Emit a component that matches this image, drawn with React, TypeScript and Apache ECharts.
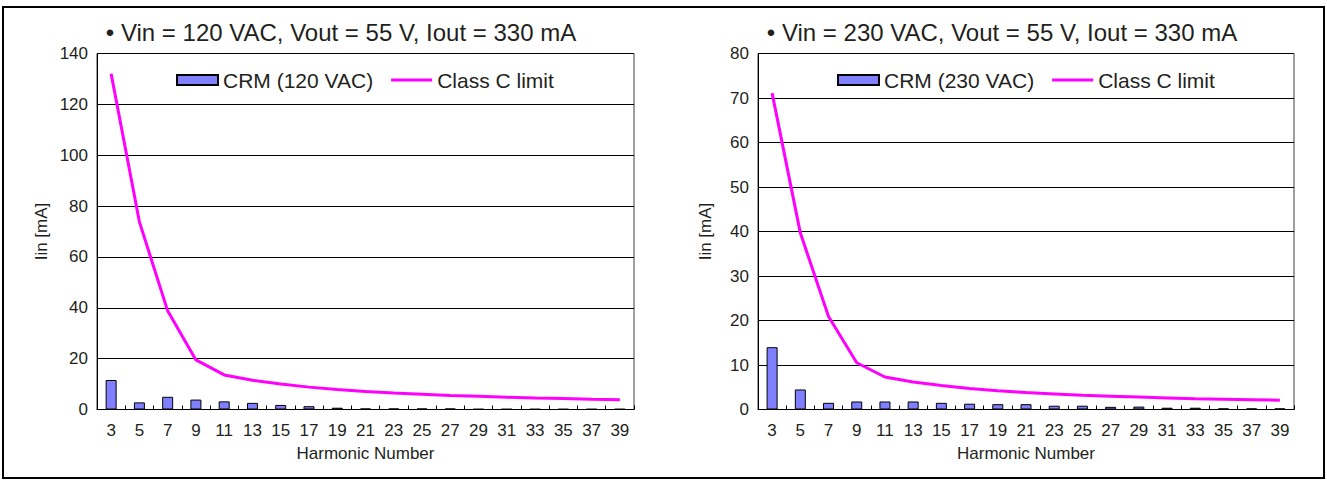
import React, { useEffect, useRef } from "react";
import * as echarts from "echarts";

const harmonics = ["3","5","7","9","11","13","15","17","19","21","23","25","27","29","31","33","35","37","39"];
const crm120 = [11.6, 2.8, 5.0, 3.9, 3.2, 2.6, 1.8, 1.3, 0.7, 0.4, 0.4, 0.4, 0.4, 0.2, 0.2, 0.2, 0.2, 0.2, 0.2];
const limit120 = [132, 73.8, 38.8, 19.5, 13.6, 11.5, 10.0, 8.8, 7.9, 7.1, 6.5, 6.0, 5.5, 5.2, 4.8, 4.5, 4.3, 4.0, 3.8];
const crm230 = [14.0, 4.5, 1.5, 1.8, 1.8, 1.8, 1.5, 1.3, 1.2, 1.2, 0.85, 0.85, 0.6, 0.65, 0.4, 0.4, 0.25, 0.25, 0.25];
const limit230 = [71.1, 39.7, 20.9, 10.5, 7.3, 6.2, 5.4, 4.7, 4.2, 3.8, 3.5, 3.2, 3.0, 2.8, 2.6, 2.4, 2.3, 2.2, 2.1];
const titles = ["• Vin = 120 VAC, Vout = 55 V, Iout = 330 mA", "• Vin = 230 VAC, Vout = 55 V, Iout = 330 mA"];
const barNames = ["CRM (120 VAC)", "CRM (230 VAC)"];
const lineName = "Class C limit";
const yMax = [140, 80];
const yInterval = [20, 10];

const FONT = "Liberation Sans, Arial, sans-serif";
const TXT = "#231f20";

export default function App() {
  const ref = useRef<HTMLDivElement>(null);
  useEffect(() => {
    if (!ref.current) return;
    const chart = echarts.init(ref.current, null, { renderer: "svg" });
    const grids = [
      { left: 97, top: 53.5, width: 537, height: 356 },
      { left: 758, top: 53.5, width: 536, height: 356 },
    ];
    const nameGaps = [47, 44];
    const xAxes: any[] = [];
    const yAxes: any[] = [];
    grids.forEach((g, i) => {
      xAxes.push({
        type: "category",
        gridIndex: i,
        data: harmonics,
        boundaryGap: true,
        name: "Harmonic Number",
        nameLocation: "middle",
        nameGap: 35,
        nameTextStyle: { fontFamily: FONT, fontSize: 17, color: TXT },
        axisLine: { show: true, lineStyle: { color: "#000", width: 1 } },
        axisTick: { show: true, inside: true, length: 4, alignWithLabel: false, lineStyle: { color: "#000" } },
        axisLabel: { fontFamily: FONT, fontSize: 17, color: TXT, margin: 12, interval: 0 },
      });
      yAxes.push({
        type: "value",
        gridIndex: i,
        min: 0,
        max: yMax[i],
        interval: yInterval[i],
        name: "Iin [mA]",
        nameLocation: "middle",
        nameGap: nameGaps[i],
        nameRotate: 90,
        nameTextStyle: { fontFamily: FONT, fontSize: 17, color: TXT },
        axisLine: { show: true, lineStyle: { color: "#000", width: 1 } },
        axisTick: { show: false },
        axisLabel: { fontFamily: FONT, fontSize: 17, color: TXT, margin: 9 },
        splitLine: { show: true, lineStyle: { color: "#000", width: 1 } },
      });
    });
    const lineIcon = { name: lineName, icon: "path://M0,0L40,0L40,3L0,3Z", itemStyle: { color: "#ff00ff", borderWidth: 0 } };
    const legendBase = {
      itemWidth: 41,
      itemHeight: 10,
      itemGap: 18,
      textStyle: { fontFamily: FONT, fontSize: 21, color: TXT },
      selectedMode: false,
    };
    chart.setOption({
      animation: false,
      textStyle: { fontFamily: FONT },
      title: [
        { text: titles[0], left: 336, top: 15.5, textAlign: "center", textStyle: { fontFamily: FONT, fontSize: 24, fontWeight: "normal", color: TXT } },
        { text: titles[1], left: 997, top: 15.5, textAlign: "center", textStyle: { fontFamily: FONT, fontSize: 24, fontWeight: "normal", color: TXT } },
      ],
      legend: [
        { ...legendBase, left: 171, top: 64.5, data: [{ name: barNames[0], icon: "rect" }, lineIcon] },
        { ...legendBase, left: 832, top: 64.5, data: [{ name: barNames[1], icon: "rect" }, lineIcon] },
      ],
      grid: grids.map((g) => ({ ...g, show: true, borderColor: "#404040", borderWidth: 1, backgroundColor: "#fff" })),
      xAxis: xAxes,
      yAxis: yAxes,
      graphic: [
        { type: "rect", shape: { x: 3, y: 7, width: 1321, height: 471 }, style: { fill: "none", stroke: "#000", lineWidth: 2 }, silent: true },
      ],
      series: [
        { name: barNames[0], type: "bar", xAxisIndex: 0, yAxisIndex: 0, data: crm120, barWidth: 11, itemStyle: { color: "#8080ff", borderColor: "#000", borderWidth: 1 } },
        { name: lineName, type: "line", xAxisIndex: 0, yAxisIndex: 0, data: limit120, symbol: "none", lineStyle: { color: "#ff00ff", width: 3 }, itemStyle: { color: "#ff00ff" } },
        { name: barNames[1], type: "bar", xAxisIndex: 1, yAxisIndex: 1, data: crm230, barWidth: 11, itemStyle: { color: "#8080ff", borderColor: "#000", borderWidth: 1 } },
        { name: lineName, type: "line", xAxisIndex: 1, yAxisIndex: 1, data: limit230, symbol: "none", lineStyle: { color: "#ff00ff", width: 3 }, itemStyle: { color: "#ff00ff" } },
      ],
    });
    return () => chart.dispose();
  }, []);
  return <div ref={ref} style={{ position: "absolute", left: 0, top: 0, width: 1327, height: 481, background: "#fff" }} />;
}
